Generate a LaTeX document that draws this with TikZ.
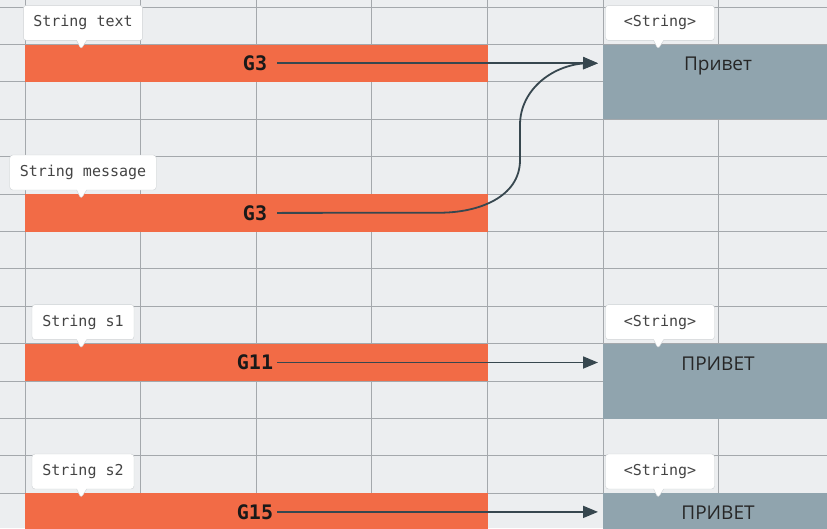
\documentclass[tikz,border=0pt]{standalone}
\usepackage{fontspec}
\setmainfont{Open Sans}
\setmonofont{DejaVu Sans Mono}
\usetikzlibrary{calc,positioning,shapes.callouts,arrows.meta}
\definecolor{sheet}{HTML}{ECEEF0}
\definecolor{gridc}{HTML}{A4A8AC}
\definecolor{refc}{HTML}{F26B46}
\definecolor{valc}{HTML}{90A4AE}
\definecolor{arrowc}{HTML}{37474F}
\definecolor{tagline}{HTML}{CDD1D4}
\definecolor{tagtext}{HTML}{444444}
\newcommand{\gw}{115.6}
\newcommand{\gh}{37.4}

\tikzset{
	gridline/.style={gridc, line width=1pt},
	refbar/.style={fill=refc, minimum width=462.5pt, minimum height=37.4pt, inner sep=0pt, anchor=north west},
	valbox/.style={fill=valc, minimum width=240pt, minimum height=74.8pt, inner sep=0pt, anchor=north west},
	addr/.style={font=\ttfamily\bfseries\fontsize{20}{20}\selectfont, text=black!90, minimum width=44pt, inner xsep=0pt},
	val/.style={font=\fontsize{19}{19}\selectfont, text=black!85, anchor=base},
	tag/.style={rectangle callout, draw=tagline, fill=white, rounded corners=3pt, callout pointer width=10pt,
		font=\ttfamily\fontsize{15}{15}\selectfont, text=tagtext, inner xsep=10pt, minimum height=35pt, minimum width=102pt},
	typetag/.style={tag, minimum width=109pt},
	ptr/.style={arrowc, line width=1.8pt, shorten >=5pt, -{Triangle[length=15pt,width=12pt]}},
}

\begin{document}
\begin{tikzpicture}[x=1pt, y=-1pt]
	\useasboundingbox (0,0) rectangle (827,528);
	\clip (0,0) rectangle (827,528);
	\fill[sheet] (0,0) rectangle (827,528);

	% sheet grid
	\foreach \c in {0,...,6}
		\draw[gridline] (25+\c*\gw,0) -- (25+\c*\gw,528);
	\foreach \r in {0,...,14}
		\draw[gridline] (0,7+\r*\gh) -- (827,7+\r*\gh);

	% reference cells
	\node[refbar] (bar1) at (25,44.4) {};
	\node[refbar] (bar2) at (25,194) {};
	\node[refbar] (bar3) at (25,343.6) {};
	\node[refbar] (bar4) at (25,493) {};

	% string objects
	\node[valbox] (obj1) at (603,44.4) {};
	\node[valbox] (obj2) at (603,343.6) {};
	\node[valbox] (obj3) at (603,493) {};

	\node[addr] (g3a) at ($(bar1.west)+(230,0)$) {G3};
	\node[addr] (g3b) at ($(bar2.west)+(230,0)$) {G3};
	\node[addr] (g11) at ($(bar3.west)+(230,0)$) {G11};
	\node[addr] (g15) at ($(bar4.west)+(230,0)$) {G15};

	\node[val] (hi1) at ($(obj1.north west)+(115,26.5)$) {Привет};
	\node[val] (hi2) at ($(obj2.north west)+(115,26.5)$) {ПРИВЕТ};
	\node[val] (hi3) at ($(obj3.north west)+(115,26.5)$) {ПРИВЕТ};

	% variable names
	\node[tag, callout absolute pointer={($(bar1.north west)+(56,5)$)}] (t1) at ($(bar1.north west)+(58,-21.5)$) {String text};
	\node[tag, callout absolute pointer={($(bar2.north west)+(56,5)$)}] (t2) at ($(bar2.north west)+(58,-21.5)$) {String message};
	\node[tag, callout absolute pointer={($(bar3.north west)+(56,5)$)}] (t3) at ($(bar3.north west)+(58,-21.5)$) {String s1};
	\node[tag, callout absolute pointer={($(bar4.north west)+(56,5)$)}] (t4) at ($(bar4.north west)+(58,-21.5)$) {String s2};
	\node[typetag, callout absolute pointer={($(obj1.north west)+(55,5)$)}] (t5) at ($(obj1.north west)+(57,-21.5)$) {<String>};
	\node[typetag, callout absolute pointer={($(obj2.north west)+(55,5)$)}] (t6) at ($(obj2.north west)+(57,-21.5)$) {<String>};
	\node[typetag, callout absolute pointer={($(obj3.north west)+(55,5)$)}] (t7) at ($(obj3.north west)+(57,-21.5)$) {<String>};

	% references
	\coordinate (k1) at (440,212.7);
	\coordinate (k2) at (520,160);
	\coordinate (k3) at (520,125);
	\coordinate (k4) at (590,63.1);
	\draw[ptr] (g3a.east) -- (obj1.west |- g3a.east);
	\draw[ptr] (g3b.east) -- (k1) .. controls (477.6,212.7) and (520,197.6) .. (k2) -- (k3)
		.. controls (520,89) and (554,63.1) .. (k4) -- (obj1.west |- g3a.east);
	\draw[ptr] (g11.east) -- (obj2.west |- g11.east);
	\draw[ptr] (g15.east) -- (obj3.west |- g15.east);
\end{tikzpicture}
\end{document}
